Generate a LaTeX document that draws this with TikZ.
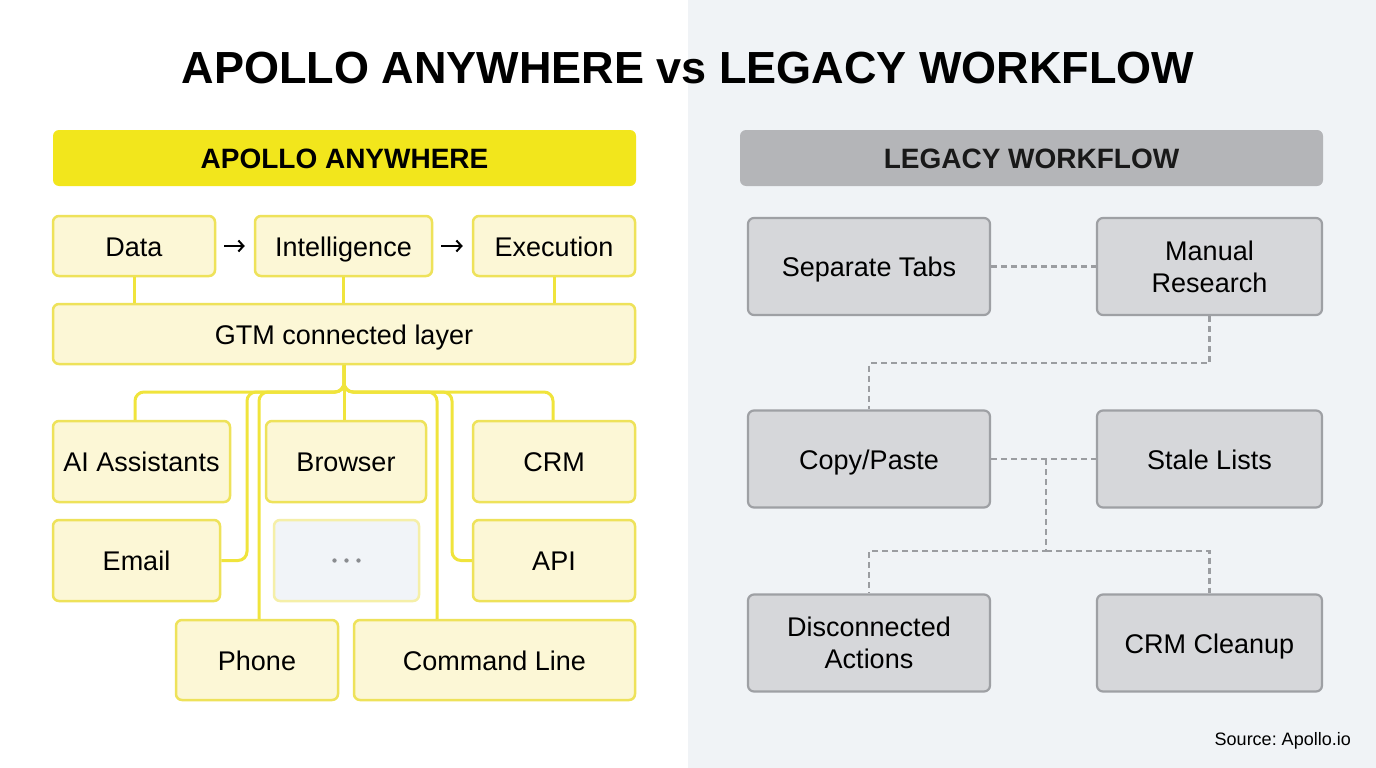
\documentclass[tikz,border=0pt]{standalone}
\usepackage{fontspec}
\setmainfont{Liberation Sans}
\usetikzlibrary{arrows.meta}
\definecolor{rightbg}{HTML}{F0F3F6}
\definecolor{yhead}{HTML}{F2E61C}
\definecolor{yfill}{HTML}{FCF7D6}
\definecolor{ybord}{HTML}{EEE25A}
\definecolor{yline}{HTML}{F0E43C}
\definecolor{ghead}{HTML}{B4B5B8}
\definecolor{gfill}{HTML}{D6D7DA}
\definecolor{gbord}{HTML}{9EA0A4}
\definecolor{dashc}{HTML}{9B9DA1}
\definecolor{ellfill}{HTML}{F1F4F8}
\definecolor{ellbord}{HTML}{F5EFA8}
\definecolor{dotc}{HTML}{8A8C90}
\begin{document}
\begin{tikzpicture}[x=1pt,y=-1pt,
  boxtxt/.style={font=\fontsize{27}{32}\selectfont, text=black, align=center, inner sep=0pt},
  oneline/.style={text height=20pt, text depth=0pt},
  ybox/.style={boxtxt, oneline, draw=ybord, fill=yfill, line width=2.5pt, rounded corners=6pt},
  gbox/.style={boxtxt, draw=gbord, fill=gfill, line width=2.2pt, rounded corners=6pt, minimum width=242pt, minimum height=97pt},
  gbox2/.style={gbox, minimum width=225pt},
  headbar/.style={font=\fontsize{28}{32}\selectfont\bfseries, text height=20.5pt, text depth=0pt, rounded corners=6pt, inner sep=0pt, minimum width=583pt, minimum height=56pt},
  yconn/.style={draw=yline, line width=3pt, rounded corners=9pt},
  dconn/.style={draw=dashc, line width=2.5pt, dash pattern=on 6pt off 4pt},
  arr/.style={draw=black, line width=2pt, -{Straight Barb[length=5pt,width=11pt,line width=2pt]}}
]
\useasboundingbox (0,0) rectangle (1376,768);
\fill[white] (0,0) rectangle (688,768);
\fill[rightbg] (688,0) rectangle (1376,768);

\node[font=\fontsize{45}{50}\selectfont\bfseries, text=black, inner sep=0pt] (title) at (688,68) {APOLLO ANYWHERE vs LEGACY WORKFLOW};

% ---------- left ----------
\node[headbar, fill=yhead, text=black] (lhead) at (344.5,158) {APOLLO ANYWHERE};

\node[ybox, minimum width=162pt, minimum height=60pt] (data) at (134,246) {Data};
\node[ybox, minimum width=177pt, minimum height=60pt] (intel) at (343.5,246) {Intelligence};
\node[ybox, minimum width=162pt, minimum height=60pt] (exec) at (554,246) {Execution};
\draw[arr, shorten <=8pt, shorten >=9pt] (data) -- (intel);
\draw[arr, shorten <=8pt, shorten >=9pt] (intel) -- (exec);

\node[ybox, minimum width=582pt, minimum height=60pt] (gtm) at (344,334) {GTM connected layer};

\draw[yconn] (data.south) -- (data.south |- gtm.north);
\draw[yconn] (intel.south) -- (intel.south |- gtm.north);
\draw[yconn] (exec.south) -- (exec.south |- gtm.north);

\node[ybox, minimum width=177pt, minimum height=81pt] (ai) at (141.5,461.5) {AI Assistants};
\node[ybox, minimum width=160pt, minimum height=81pt] (browser) at (346,461.5) {Browser};
\node[ybox, minimum width=162pt, minimum height=81pt] (crm) at (554,461.5) {CRM};
\node[ybox, minimum width=167pt, minimum height=81pt] (email) at (136.5,560.5) {Email};
\node[draw=ellbord, fill=ellfill, line width=2.5pt, rounded corners=6pt, minimum width=145pt, minimum height=81pt, inner sep=0pt] (more) at (346.5,560.5) {};
\foreach \dx in {-12,0,12}
  \fill[dotc] ([xshift=\dx pt]more.center) circle (2.2pt);
\node[ybox, minimum width=162pt, minimum height=81pt] (api) at (554,560.5) {API};
\node[ybox, minimum width=162pt, minimum height=80pt] (phone) at (257,660) {Phone};
\node[ybox, minimum width=281pt, minimum height=80pt] (cmd) at (494.5,660) {Command Line};

\coordinate (bus) at (344,392);
\draw[yconn] (gtm.south) -- (bus) -| ([xshift=-6.5pt]ai.north);
\draw[yconn] (gtm.south) -- (bus) -- (247,392) |- (email.east);
\draw[yconn] (gtm.south) -- (bus) -| ([xshift=2pt]phone.north);
\draw[yconn] (gtm.south) -- (gtm.south |- browser.north);
\draw[yconn] (gtm.south) -- (bus) -| ([xshift=-57.5pt]cmd.north);
\draw[yconn] (gtm.south) -- (bus) -- (452,392) |- (api.west);
\draw[yconn] (gtm.south) -- (bus) -| ([xshift=-1pt]crm.north);
\draw[draw=yline, line width=3pt] (gtm.south) -- (bus);

% ---------- right ----------
\node[headbar, fill=ghead, text=black!90] (rhead) at (1031.5,158) {LEGACY WORKFLOW};

\node[gbox, oneline] (tabs) at (869,266.5) {Separate Tabs};
\node[gbox2] (manual) at (1209.5,266.5) {Manual\\Research};
\node[gbox, oneline] (copy) at (869,459) {Copy/Paste};
\node[gbox2, oneline] (stale) at (1209.5,459) {Stale Lists};
\node[gbox] (disc) at (869,643) {Disconnected\\Actions};
\node[gbox2, oneline] (clean) at (1209.5,643) {CRM Cleanup};

\draw[dconn] (tabs.east) -- (manual.west);
\draw[dconn] (manual.south) -- ++(0,47) -| (copy.north);
\draw[dconn] (copy.east) -- (stale.west);
\coordinate (junc) at (1046,459);
\coordinate (split) at (1046,551);
\draw[dconn] (junc) -- (split) -| (disc.north);
\draw[dconn] (split) -| (clean.north);

\node[font=\fontsize{18}{20}\selectfont, text=black, anchor=east, inner sep=0pt] (src) at (1351,741) {Source:\ Apollo.io};
\end{tikzpicture}
\end{document}
